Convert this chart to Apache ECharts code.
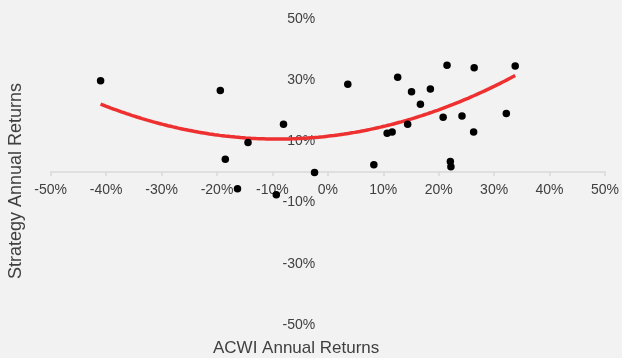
<!DOCTYPE html>
<html>
<head>
<meta charset="utf-8">
<script src="https://cdn.jsdelivr.net/npm/echarts@6/dist/echarts.min.js"></script>
<style>
  html, body { margin: 0; padding: 0; background: #f2f2f2; }
  #chart { width: 622px; height: 358px; }
</style>
</head>
<body>
<div id="chart"></div>
<script>
// Annual returns (%) per year: ACWI index vs. the strategy
const acwiReturns = [
  -41.0, -19.4, -8.0, -14.4, -18.5, -2.4, -16.3, -9.3,
  3.6, 12.6, 15.1, 18.5, 16.7, 14.4, 10.7, 11.6, 8.3,
  21.5, 26.4, 33.8, 20.8, 24.2, 32.2, 26.3, 22.1, 22.2
];
const strategyReturns = [
  29.8, 26.6, 15.6, 9.6, 4.2, -0.2, -5.5, -7.4,
  28.7, 31.0, 26.2, 27.1, 22.1, 15.6, 12.7, 13.1, 2.4,
  34.9, 34.1, 34.6, 17.9, 18.3, 19.1, 13.1, 3.4, 1.7
];

// Polynomial (order 2) trendline: y = a*x^2 + b*x + c
const trendCoefficients = [0.01126, 0.2056, 11.7];

const xAxisTitle = 'ACWI Annual Returns';
const yAxisTitle = 'Strategy Annual Returns';

const xMin = Math.min(...acwiReturns), xMax = Math.max(...acwiReturns);
const [ta, tb, tc] = trendCoefficients;
const trend = [];
const steps = 80;
for (let i = 0; i <= steps; i++) {
  const x = xMin + (xMax - xMin) * i / steps;
  trend.push([x, ta * x * x + tb * x + tc]);
}

const points = acwiReturns.map((x, i) => [x, strategyReturns[i]]);

const labelFont = { fontFamily: 'Liberation Sans, Arial, sans-serif', fontSize: 14, color: '#404040' };

const W = 622, H = 358;
const gridLeft = 50.7, gridRight = 14.3, gridTop = 19, gridBottom = 33;
const plotWidth = W - gridLeft - gridRight;
const plotHeight = H - gridTop - gridBottom;

const chart = echarts.init(document.getElementById('chart'), null, { renderer: 'canvas' });
chart.setOption({
  backgroundColor: '#f2f2f2',
  animation: false,
  grid: { left: gridLeft, right: gridRight, top: gridTop, bottom: gridBottom, containLabel: false },
  xAxis: {
    type: 'value', min: -50, max: 50, interval: 10,
    // horizontal axis crosses at y = 0 (middle of the plot)
    position: 'bottom',
    offset: -plotHeight / 2,
    axisLine: { show: true, onZero: false, lineStyle: { color: '#d9d9d9', width: 1.5 } },
    axisTick: { show: true, length: 4, lineStyle: { color: '#d9d9d9', width: 1.5 } },
    splitLine: { show: false },
    axisLabel: Object.assign({ margin: 11, formatter: v => v + '%' }, labelFont)
  },
  yAxis: {
    type: 'value', min: -50, max: 50, interval: 20,
    // vertical axis sits on x = 0 (middle of the plot)
    position: 'left',
    offset: -plotWidth / 2,
    axisLine: { show: false, onZero: false },
    axisTick: { show: false },
    splitLine: { show: false },
    axisLabel: Object.assign({ margin: 14, formatter: v => v + '%' }, labelFont)
  },
  series: [
    {
      type: 'line',
      data: trend,
      showSymbol: false,
      smooth: true,
      lineStyle: { color: '#ee3030', width: 3.5 },
      z: 2
    },
    {
      type: 'scatter',
      data: points,
      symbol: 'circle',
      symbolSize: 7.5,
      itemStyle: { color: '#000000', opacity: 1 },
      z: 3
    }
  ],
  graphic: [
    {
      type: 'text', left: 213, top: 340,
      style: { text: xAxisTitle, font: '17px "Liberation Sans", Arial, sans-serif', fill: '#404040' }
    },
    {
      type: 'text', x: 16, y: 181, rotation: Math.PI / 2,
      style: {
        text: yAxisTitle, font: '18px "Liberation Sans", Arial, sans-serif', fill: '#404040',
        textAlign: 'center', textVerticalAlign: 'middle'
      }
    }
  ]
});
</script>
</body>
</html>
